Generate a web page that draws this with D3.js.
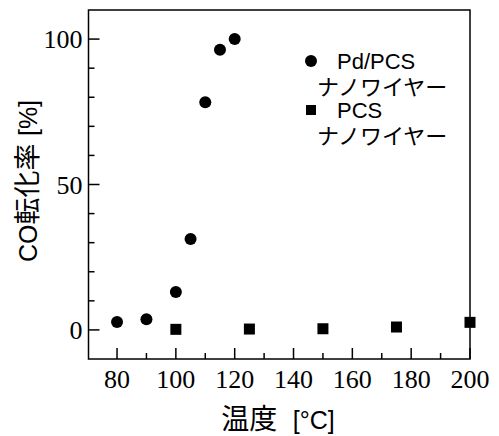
<!DOCTYPE html>
<html>
<head>
<meta charset="utf-8">
<script src="https://cdn.jsdelivr.net/npm/d3@7"></script>
<style>
  body { margin: 0; background: #fff; }
  svg { display: block; }
</style>
</head>
<body>
<div id="chart"></div>
<script>
// data
const pdTemps = [80, 90, 100, 105, 110, 115, 120];
const pdConv = [2.7, 3.7, 13, 31.3, 78.3, 96.3, 100];
const pcsTemps = [100, 125, 150, 175, 200];
const pcsConv = [0.2, 0.3, 0.4, 1.0, 2.6];
const xTicks = [80, 100, 120, 140, 160, 180, 200];
const yTicks = [0, 50, 100];

const width = 499, height = 436;
const margin = { left: 88.5, top: 10, right: 29, bottom: 77 };

const svg = d3.select('#chart').append('svg')
        .attr('width', width)
        .attr('height', height);

const x = d3.scaleLinear().domain([70.3, 200]).range([margin.left, width - margin.right]);
const y = d3.scaleLinear().domain([-10, 110]).range([height - margin.bottom, margin.top]);

const serif = 'Liberation Serif';
const sans = 'Liberation Sans, Noto Sans CJK JP, sans-serif';

// frame
svg.append('rect')
        .attr('x', x.range()[0])
        .attr('y', y.range()[1])
        .attr('width', x.range()[1] - x.range()[0])
        .attr('height', y.range()[0] - y.range()[1])
        .attr('fill', 'none')
        .attr('stroke', '#000')
        .attr('stroke-width', 1.5);

// x ticks, pointing inward
const gx = svg.append('g');
d3.range(80, 201, 10).forEach(v => {
        const major = v % 20 === 0;
        gx.append('line')
                .attr('x1', x(v)).attr('x2', x(v))
                .attr('y1', y.range()[0]).attr('y2', y.range()[0] - (major ? 11 : 6))
                .attr('stroke', '#000').attr('stroke-width', 1.5);
});
gx.selectAll('text').data(xTicks).join('text')
        .attr('x', d => x(d))
        .attr('y', y.range()[0] + 29)
        .attr('text-anchor', 'middle')
        .style('font-family', serif)
        .style('font-size', '26px')
        .text(d => d);

// y ticks
const gy = svg.append('g');
d3.range(0, 101, 10).forEach(v => {
        const major = v % 50 === 0;
        gy.append('line')
                .attr('x1', x.range()[0]).attr('x2', x.range()[0] + (major ? 11 : 6))
                .attr('y1', y(v)).attr('y2', y(v))
                .attr('stroke', '#000').attr('stroke-width', 1.5);
});
gy.selectAll('text').data(yTicks).join('text')
        .attr('x', x.range()[0] - 6)
        .attr('y', d => y(d) + 9)
        .attr('text-anchor', 'end')
        .style('font-family', serif)
        .style('font-size', '26px')
        .text(d => d);

// markers
svg.append('g').selectAll('circle').data(pdTemps).join('circle')
        .attr('cx', d => x(d))
        .attr('cy', (d, i) => y(pdConv[i]))
        .attr('r', 6)
        .attr('fill', '#000');

const sq = 11;
svg.append('g').selectAll('rect').data(pcsTemps).join('rect')
        .attr('x', d => x(d) - sq / 2)
        .attr('y', (d, i) => y(pcsConv[i]) - sq / 2)
        .attr('width', sq)
        .attr('height', sq)
        .attr('fill', '#000');

// legend
const lg = svg.append('g').style('font-family', sans).style('font-size', '22px');
lg.append('circle').attr('cx', 311).attr('cy', 61).attr('r', 6).attr('fill', '#000');
lg.append('text').attr('x', 337).attr('y', 69).text('Pd/PCS');
lg.append('text').attr('x', 317).attr('y', 95).text('ナノワイヤー');
lg.append('rect').attr('x', 306).attr('y', 105).attr('width', 10).attr('height', 10).attr('fill', '#000');
lg.append('text').attr('x', 337).attr('y', 118).text('PCS');
lg.append('text').attr('x', 317).attr('y', 144).text('ナノワイヤー');

// axis titles
const xt = svg.append('text')
        .attr('x', 278)
        .attr('y', 429)
        .attr('text-anchor', 'middle')
        .style('font-family', sans)
        .style('font-size', '25px')
        .attr('xml:space', 'preserve');
xt.append('tspan').style('font-size', '28px').text('温度  ');
xt.append('tspan').text('[°C]');

const yt = svg.append('text')
        .attr('transform', 'translate(37,181) rotate(-90)')
        .attr('text-anchor', 'middle')
        .style('font-family', sans)
        .style('font-size', '25px')
        .attr('xml:space', 'preserve');
yt.append('tspan').text('CO');
yt.append('tspan').style('font-size', '27px').text('転化率 ');
yt.append('tspan').text('[%]');
</script>
</body>
</html>
